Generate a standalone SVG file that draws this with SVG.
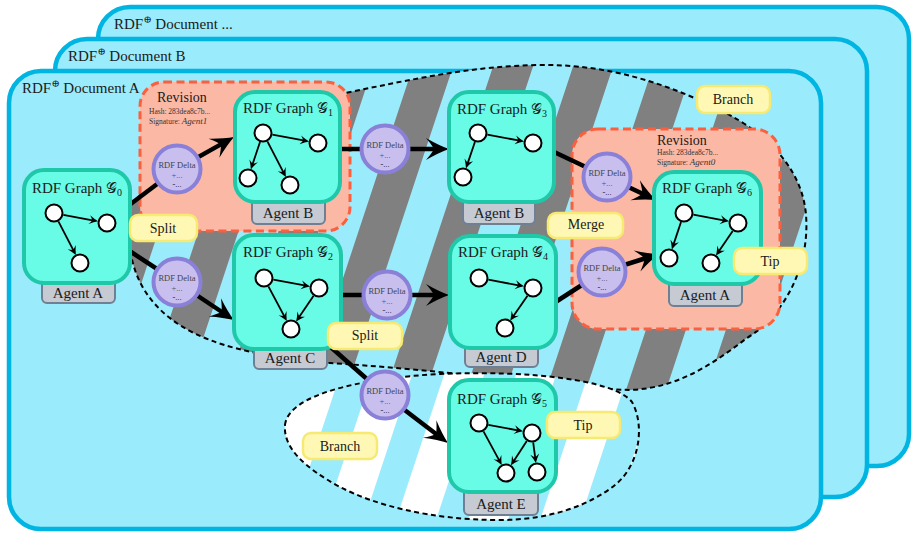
<svg xmlns="http://www.w3.org/2000/svg" width="912" height="533" viewBox="0 0 912 533">
<style>
text{font-family:"Liberation Serif","DejaVu Serif",serif;fill:#1a1a1a}
.doc{fill:#9aebfb;stroke:#00b5e2;stroke-width:4.5}
.doclbl{font-size:15px}
.blob{stroke:#000;stroke-width:2;stroke-dasharray:5,3.5}
.rev{fill:#fbb9a5;stroke:#fc5f3e;stroke-width:3;stroke-dasharray:8,4.5}
.revt{font-size:14px}
.revs{font-size:7.5px;fill:#333}
.graph{fill:#68fbe6;stroke:#1ec8a8;stroke-width:4}
.gt{font-size:15px;text-anchor:middle}
.agent{fill:#c5cad3;stroke:#6f8095;stroke-width:2}
.at{font-size:15px;text-anchor:middle}
.n{fill:#fff;stroke:#000;stroke-width:2}
.e{stroke:#000;stroke-width:1.8;fill:none;marker-end:url(#sa)}
.c{stroke:#000;stroke-width:4.5;fill:none;stroke-linecap:butt}
.ca{marker-end:url(#ba)}
.delta{fill:#c8bfee;stroke:#8a80d8;stroke-width:4}
.dt{font-size:8.5px;text-anchor:middle;fill:#444}
.dp{font-size:8.5px;text-anchor:middle;fill:#555}
.dm{font-size:8.5px;text-anchor:middle;fill:#222}
.lbl{fill:#fff8b5;stroke:#f6ea72;stroke-width:2.5}
.lt{font-size:14px;text-anchor:middle}
</style>
<defs>
<pattern id="grayStripes" patternUnits="userSpaceOnUse" x="35" y="0" width="80" height="20" patternTransform="skewX(-18.3)">
<rect x="0" y="0" width="80" height="20" fill="#9aebfb"/>
<rect x="0" y="0" width="40" height="20" fill="#808080"/>
</pattern>
<pattern id="whiteStripes" patternUnits="userSpaceOnUse" x="64" y="0" width="72" height="20" patternTransform="skewX(-18.3)">
<rect x="0" y="0" width="72" height="20" fill="#9aebfb"/>
<rect x="0" y="0" width="40" height="20" fill="#ffffff"/>
</pattern>
<marker id="ba" viewBox="-25 -12 26 24" markerWidth="26" markerHeight="24" refX="-10" refY="0" orient="auto" markerUnits="userSpaceOnUse">
<path d="M0,0 Q-10,-3.5 -23,-11 Q-17,-4 -15,0 Q-17,4 -23,11 Q-10,3.5 0,0Z" fill="#000"/>
</marker>
<marker id="sa" viewBox="-10 -5 11 10" markerWidth="11" markerHeight="10" refX="-3" refY="0" orient="auto" markerUnits="userSpaceOnUse">
<path d="M0,0 Q-4,-1.5 -9,-4.5 Q-6.5,-1.5 -6,0 Q-6.5,1.5 -9,4.5 Q-4,1.5 0,0Z" fill="#000"/>
</marker>
</defs>

<g id="docDots">
<rect class="doc" x="98" y="7" width="811" height="459" rx="32"/>
<text class="doclbl" x="114" y="29">RDF<tspan font-size="10" dy="-6">⊕</tspan><tspan dy="6"> Document ...</tspan></text>
</g>
<g id="docB">
<rect class="doc" x="55" y="39" width="812" height="458" rx="32"/>
<text class="doclbl" x="68" y="61">RDF<tspan font-size="10" dy="-6">⊕</tspan><tspan dy="6"> Document B</tspan></text>
</g>
<g id="docA">
<rect class="doc" x="9" y="71" width="812" height="458" rx="32"/>
<text class="doclbl" x="22" y="93">RDF<tspan font-size="10" dy="-6">⊕</tspan><tspan dy="6"> Document A</tspan></text>
</g>

<g id="branchMain">
<path class="blob" fill="url(#grayStripes)" d="M126,210 C190,140 270,102 345,93 C410,80 470,66 540,65 C610,64 670,85 720,110 C775,137 803,175 806,215 C810,265 785,315 747,338 C715,362 680,388 630,390 C560,388 470,372 330,363 C290,360 240,352 210,340 C170,325 145,300 135,270 C130,255 128,240 126,210 Z"/>
</g>
<g id="branchE">
<path class="blob" fill="url(#whiteStripes)" d="M285,425 C288,395 360,378 440,374 C530,370 615,380 632,402 C645,425 640,465 615,485 C590,505 550,520 500,520 C430,520 375,505 340,487 C305,468 283,448 285,425 Z"/>
</g>

<g id="revision1">
<rect class="rev" x="140" y="82" width="210" height="149" rx="24"/>
<text class="revt" x="157" y="102">Revision</text>
<text class="revs" x="149" y="114">Hash: 283dea8c7b...</text>
<text class="revs" x="149" y="124">Signature: <tspan font-style="italic" font-size="9">Agent1</tspan></text>
</g>
<g id="revision2">
<rect class="rev" x="572" y="129" width="208" height="200" rx="26"/>
<text class="revt" x="657" y="145">Revision</text>
<text class="revs" x="657" y="155">Hash: 283dea8c7b...</text>
<text class="revs" x="657" y="165">Signature: <tspan font-style="italic" font-size="9">Agent0</tspan></text>
</g>

<g id="connectors">
<path class="c" d="M128,206 L177,169"/>
<path class="c ca" d="M177,169 L225.3,141.9"/>
<path class="c" d="M128,250 L177,282"/>
<path class="c ca" d="M177,282 L225.7,314.5"/>
<path class="c" d="M338,149 L385,149"/>
<path class="c ca" d="M385,149 L439,149"/>
<path class="c" d="M339,295 L387,295"/>
<path class="c ca" d="M387,295 L439,295"/>
<path class="c" d="M552,151 L607,177"/>
<path class="c ca" d="M607,177 L646.9,195.8"/>
<path class="c" d="M554,303 L602,272"/>
<path class="c ca" d="M602,272 L649.5,257"/>
<path class="c" d="M325,342 L385,395"/>
<path class="c ca" d="M385,395 L440,437"/>
</g>

<g id="delta1"><circle class="delta" cx="177" cy="169" r="23.5"/><text class="dt" x="177" y="168">RDF Delta</text><text class="dp" x="177" y="177.5">+...</text><text class="dm" x="177" y="187">-...</text></g>
<g id="delta2"><circle class="delta" cx="177" cy="282" r="23.5"/><text class="dt" x="177" y="281">RDF Delta</text><text class="dp" x="177" y="290.5">+...</text><text class="dm" x="177" y="300">-...</text></g>
<g id="delta3"><circle class="delta" cx="385" cy="149" r="23.5"/><text class="dt" x="385" y="148">RDF Delta</text><text class="dp" x="385" y="157.5">+...</text><text class="dm" x="385" y="167">-...</text></g>
<g id="delta4"><circle class="delta" cx="387" cy="295" r="23.5"/><text class="dt" x="387" y="294">RDF Delta</text><text class="dp" x="387" y="303.5">+...</text><text class="dm" x="387" y="313">-...</text></g>
<g id="delta5"><circle class="delta" cx="607" cy="177" r="23.5"/><text class="dt" x="607" y="176">RDF Delta</text><text class="dp" x="607" y="185.5">+...</text><text class="dm" x="607" y="195">-...</text></g>
<g id="delta6"><circle class="delta" cx="602" cy="272" r="23.5"/><text class="dt" x="602" y="271">RDF Delta</text><text class="dp" x="602" y="280.5">+...</text><text class="dm" x="602" y="290">-...</text></g>
<g id="delta7"><circle class="delta" cx="385" cy="395" r="23.5"/><text class="dt" x="385" y="394">RDF Delta</text><text class="dp" x="385" y="403.5">+...</text><text class="dm" x="385" y="413">-...</text></g>

<g id="graph0">
<rect class="agent" x="42" y="272" width="73" height="31" rx="5"/>
<text class="at" x="78" y="298">Agent A</text>
<rect class="graph" x="24" y="170" width="106" height="113" rx="20"/>
<text class="gt" x="77" y="193">RDF Graph 𝒢<tspan font-size="10" dy="3">0</tspan></text>
<circle class="n" cx="54" cy="213" r="8.5"/><circle class="n" cx="107" cy="223" r="8.5"/><circle class="n" cx="80" cy="263" r="8.5"/>
<path class="e" d="M63.3,214.8 L95.2,220.8"/><path class="e" d="M58.4,221.4 L74.5,252.4"/>
</g>
<g id="graph1">
<rect class="agent" x="252" y="192" width="73" height="32" rx="5"/>
<text class="at" x="288" y="218">Agent B</text>
<rect class="graph" x="235" y="92" width="105" height="110" rx="20"/>
<text class="gt" x="288" y="113">RDF Graph 𝒢<tspan font-size="10" dy="3">1</tspan></text>
<circle class="n" cx="263" cy="133" r="8.5"/><circle class="n" cx="318" cy="143" r="8.5"/><circle class="n" cx="248" cy="178" r="8.5"/><circle class="n" cx="290" cy="185" r="8.5"/>
<path class="e" d="M272.3,134.7 L306.2,140.9"/><path class="e" d="M260,142 L251.8,166.6"/><path class="e" d="M267.4,141.4 L284.5,174.4"/>
</g>
<g id="graph3">
<rect class="agent" x="463" y="192" width="72" height="32" rx="5"/>
<text class="at" x="499" y="218">Agent B</text>
<rect class="graph" x="449" y="92" width="105" height="110" rx="20"/>
<text class="gt" x="502" y="114">RDF Graph 𝒢<tspan font-size="10" dy="3">3</tspan></text>
<circle class="n" cx="478" cy="133" r="8.5"/><circle class="n" cx="533" cy="143" r="8.5"/><circle class="n" cx="463" cy="177" r="8.5"/>
<path class="e" d="M487.3,134.7 L521.2,140.9"/><path class="e" d="M474.9,142 L466.9,165.6"/>
</g>
<g id="graph2">
<rect class="agent" x="254" y="339" width="73" height="30" rx="5"/>
<text class="at" x="290" y="363">Agent C</text>
<rect class="graph" x="234" y="235" width="107" height="114" rx="20"/>
<text class="gt" x="288" y="257">RDF Graph 𝒢<tspan font-size="10" dy="3">2</tspan></text>
<circle class="n" cx="264" cy="278" r="8.5"/><circle class="n" cx="319" cy="288" r="8.5"/><circle class="n" cx="291" cy="329" r="8.5"/>
<path class="e" d="M273.3,279.7 L307.2,285.9"/><path class="e" d="M268.4,286.4 L285.4,318.4"/><path class="e" d="M313.6,295.8 L297.8,319.1"/>
</g>
<g id="graph4">
<rect class="agent" x="465" y="337" width="73" height="30" rx="5"/>
<text class="at" x="501" y="362">Agent D</text>
<rect class="graph" x="450" y="236" width="106" height="112" rx="20"/>
<text class="gt" x="503" y="257">RDF Graph 𝒢<tspan font-size="10" dy="3">4</tspan></text>
<circle class="n" cx="479" cy="278" r="8.5"/><circle class="n" cx="533" cy="288" r="8.5"/><circle class="n" cx="505" cy="328" r="8.5"/>
<path class="e" d="M488.3,279.7 L521.2,285.8"/><path class="e" d="M527.5,295.8 L511.9,318.2"/>
</g>
<g id="graph5">
<rect class="agent" x="464" y="482" width="74" height="33" rx="5"/>
<text class="at" x="501" y="509">Agent E</text>
<rect class="graph" x="449" y="380" width="107" height="112" rx="20"/>
<text class="gt" x="502" y="404">RDF Graph 𝒢<tspan font-size="10" dy="3">5</tspan></text>
<circle class="n" cx="479" cy="423" r="8.5"/><circle class="n" cx="532" cy="433" r="8.5"/><circle class="n" cx="506" cy="473" r="8.5"/><circle class="n" cx="537" cy="472" r="8.5"/>
<path class="e" d="M488.3,424.8 L520.2,430.8"/><path class="e" d="M483.5,431.4 L500.3,462.4"/><path class="e" d="M526.8,441 L512.5,462.9"/><path class="e" d="M533.2,442.4 L535.5,460.1"/>
</g>
<g id="graph6">
<rect class="agent" x="669" y="274" width="73" height="32" rx="5"/>
<text class="at" x="705" y="300">Agent A</text>
<rect class="graph" x="654" y="172" width="107" height="112" rx="20"/>
<text class="gt" x="707" y="193">RDF Graph 𝒢<tspan font-size="10" dy="3">6</tspan></text>
<circle class="n" cx="684" cy="213" r="8.5"/><circle class="n" cx="738" cy="223" r="8.5"/><circle class="n" cx="669" cy="258" r="8.5"/><circle class="n" cx="711" cy="263" r="8.5"/>
<path class="e" d="M693.3,214.7 L726.2,220.8"/><path class="e" d="M681,222 L672.8,246.6"/><path class="e" d="M732.7,230.9 L717.7,253.1"/>
</g>

<g id="labelSplit1"><rect class="lbl" x="130" y="215" width="67" height="26" rx="8"/><text class="lt" x="163" y="233">Split</text></g>
<g id="labelSplit2"><rect class="lbl" x="328" y="323" width="74" height="26" rx="8"/><text class="lt" x="365" y="340">Split</text></g>
<g id="labelMerge"><rect class="lbl" x="548" y="213" width="75" height="25" rx="8"/><text class="lt" x="586" y="229">Merge</text></g>
<g id="labelBranch1"><rect class="lbl" x="697" y="86" width="73" height="27" rx="8"/><text class="lt" x="733" y="104">Branch</text></g>
<g id="labelTip1"><rect class="lbl" x="734" y="248" width="73" height="26" rx="8"/><text class="lt" x="770" y="266">Tip</text></g>
<g id="labelBranch2"><rect class="lbl" x="303" y="433" width="74" height="26" rx="8"/><text class="lt" x="340" y="451">Branch</text></g>
<g id="labelTip2"><rect class="lbl" x="547" y="412" width="73" height="26" rx="8"/><text class="lt" x="583" y="430">Tip</text></g>
</svg>
